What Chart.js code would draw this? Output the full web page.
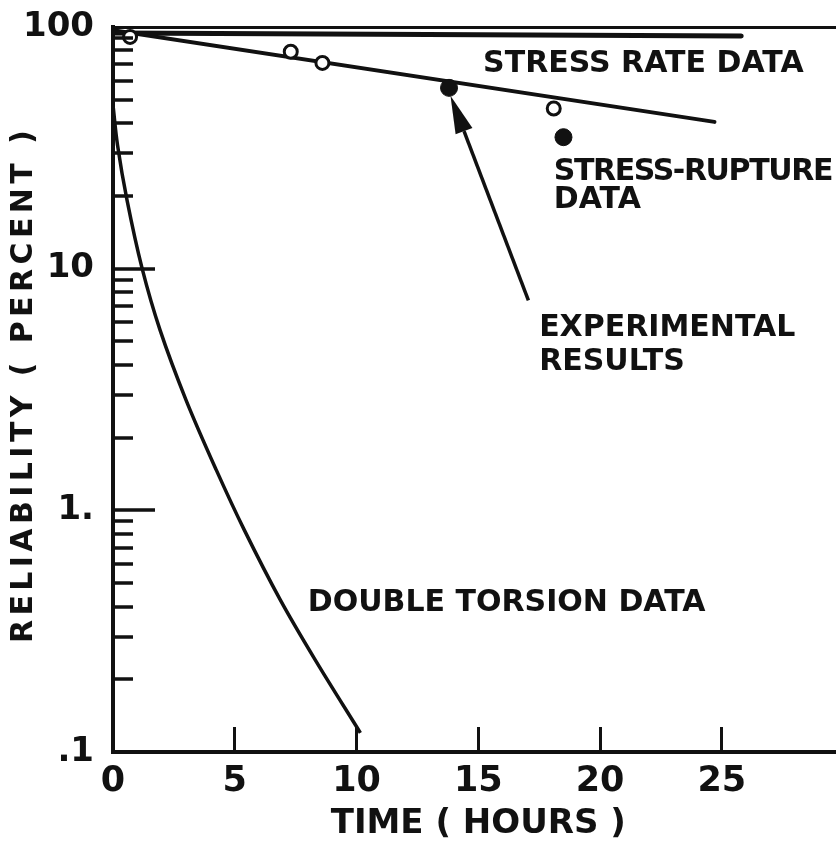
<!DOCTYPE html>
<html>
<head>
<meta charset="utf-8">
<script src="https://cdn.jsdelivr.net/npm/chart.js@4/dist/chart.umd.min.js"></script>
<style>
  html, body { margin: 0; padding: 0; background: #fff; overflow: hidden; width: 836px; height: 851px; }
  #wrap { position: relative; width: 836px; height: 851px; overflow: hidden; }
  canvas { display: block; }
</style>
</head>
<body>
<div id="wrap"><canvas id="chart" width="853" height="851"></canvas></div>
<script>
// Axis ticks
const X_TICKS = [0, 5, 10, 15, 20, 25];
const Y_TICKS = [0.1, 1, 10, 100];
const Y_TICK_LABELS = ['.1', '1.', '10', '100'];

// Stress rate data (fitted line)
const STRESS_RATE_T = [0, 25.8];
const STRESS_RATE_R = [94.5, 91.8];

// Experimental results (fitted line)
const EXPERIMENTAL_T = [0, 24.7];
const EXPERIMENTAL_R = [97, 40.5];

// Double torsion prediction
const TORSION_T = [0, 0.185, 0.576, 1.19, 1.93, 3.00, 4.24, 5.39, 6.87, 8.31, 10.16];
const TORSION_R = [47.6, 32.5, 19.2, 10.07, 5.58, 2.86, 1.47, 0.83, 0.426, 0.24, 0.12];

// Measured points: stress rate (open) and stress-rupture (filled)
const OPEN_T = [0.7, 7.3, 8.6, 18.1];
const OPEN_R = [91, 79, 71, 46];
const FILLED_T = [13.8, 18.5];
const FILLED_R = [56, 35];

// Callout arrow, in data units: tail near the label, head at the point
const ARROW_TAIL = [17.06, 7.4];
const ARROW_HEAD = [13.86, 52];

// Text labels anchored in data units (left edge, vertical middle), letter spacing in px
const NOTES = [
  ['STRESS RATE DATA', 15.2, 70.3, 0],
  ['STRESS-RUPTURE', 18.1, 25.1, -1.4],
  ['DATA', 18.1, 19.2, 0],
  ['EXPERIMENTAL', 17.5, 5.69, 0],
  ['RESULTS', 17.5, 4.11, 0],
  ['DOUBLE TORSION DATA', 8.0, 0.414, 0]
];

const FONT = "'DejaVu Sans', sans-serif";
const INK = '#111';

const zip = (xs, ys) => xs.map((x, i) => ({ x, y: ys[i] }));

// Minor and major tick marks drawn inward from the log axis
const logTicks = {
  id: 'logTicks',
  afterDraw(chart) {
    const y = chart.scales.y;
    const left = chart.chartArea.left;
    const ctx = chart.ctx;
    ctx.save();
    ctx.strokeStyle = INK;
    ctx.lineWidth = 3.5;
    ctx.lineCap = 'butt';
    [0.1, 1, 10].forEach(decade => {
      for (let k = 1; k <= 9; k++) {
        if (k === 1 && decade === 0.1) continue;
        const py = Math.round(y.getPixelForValue(k * decade));
        const len = k === 1 ? 42 : 20;
        ctx.beginPath();
        ctx.moveTo(left, py);
        ctx.lineTo(left + len, py);
        ctx.stroke();
      }
    });
    ctx.restore();
  }
};

// Rotated axis title with wide lettering
const yTitle = {
  id: 'yTitle',
  afterDraw(chart) {
    const ctx = chart.ctx;
    const ca = chart.chartArea;
    ctx.save();
    ctx.translate(24, (ca.top + ca.bottom) / 2 - 3);
    ctx.rotate(-Math.PI / 2);
    ctx.font = `bold 30px ${FONT}`;
    ctx.letterSpacing = '4.4px';
    ctx.fillStyle = INK;
    ctx.textAlign = 'center';
    ctx.textBaseline = 'middle';
    ctx.fillText('RELIABILITY ( PERCENT )', 2, 0);
    ctx.restore();
  }
};

// Text notes and the callout arrow
const notes = {
  id: 'notes',
  afterDatasetsDraw(chart) {
    const { x, y } = chart.scales;
    const ctx = chart.ctx;
    ctx.save();
    ctx.fillStyle = INK;
    ctx.font = `bold 30px ${FONT}`;
    ctx.textAlign = 'left';
    ctx.textBaseline = 'middle';
    NOTES.forEach(([t, tx, ty, sp]) => {
      ctx.letterSpacing = `${sp}px`;
      ctx.fillText(t, x.getPixelForValue(tx), y.getPixelForValue(ty));
    });
    ctx.letterSpacing = '0px';

    const x1 = x.getPixelForValue(ARROW_TAIL[0]);
    const y1 = y.getPixelForValue(ARROW_TAIL[1]);
    const x2 = x.getPixelForValue(ARROW_HEAD[0]);
    const y2 = y.getPixelForValue(ARROW_HEAD[1]);
    const ang = Math.atan2(y2 - y1, x2 - x1);
    const headLen = 38, headHalf = 9;
    const bx = x2 - headLen * Math.cos(ang);
    const by = y2 - headLen * Math.sin(ang);
    ctx.strokeStyle = INK;
    ctx.lineWidth = 3.5;
    ctx.beginPath();
    ctx.moveTo(x1, y1);
    ctx.lineTo(bx, by);
    ctx.stroke();
    ctx.beginPath();
    ctx.moveTo(x2, y2);
    ctx.lineTo(bx + headHalf * Math.sin(ang), by - headHalf * Math.cos(ang));
    ctx.lineTo(bx - headHalf * Math.sin(ang), by + headHalf * Math.cos(ang));
    ctx.closePath();
    ctx.fill();
    ctx.restore();
  }
};

new Chart(document.getElementById('chart'), {
  type: 'scatter',
  data: {
    datasets: [
      {
        data: zip(OPEN_T, OPEN_R), order: 0,
        pointStyle: 'circle', pointRadius: 6.5, borderWidth: 3,
        backgroundColor: '#fff', borderColor: INK
      },
      {
        data: zip(FILLED_T, FILLED_R), order: 0,
        pointStyle: 'circle', pointRadius: 8.5, borderWidth: 1,
        backgroundColor: INK, borderColor: INK
      },
      {
        data: zip(STRESS_RATE_T, STRESS_RATE_R), order: 1,
        showLine: true, pointRadius: 0, borderWidth: 5, borderColor: INK, borderCapStyle: 'round'
      },
      {
        data: zip(EXPERIMENTAL_T, EXPERIMENTAL_R), order: 1,
        showLine: true, pointRadius: 0, borderWidth: 4, borderColor: INK, borderCapStyle: 'round'
      },
      {
        data: zip(TORSION_T, TORSION_R), order: 1,
        showLine: true, pointRadius: 0, borderWidth: 3.5, borderColor: INK,
        tension: 0.35
      }
    ]
  },
  options: {
    responsive: false,
    animation: false,
    devicePixelRatio: 1,
    layout: { padding: 0 },
    plugins: { legend: { display: false }, tooltip: { enabled: false } },
    scales: {
      x: {
        type: 'linear', position: 'bottom', min: 0, max: 30,
        ticks: {
          stepSize: 5, autoSkip: false, maxRotation: 0, padding: 0, color: INK,
          font: { family: FONT, size: 35, weight: 'bold', lineHeight: '110px' },
          callback: v => (X_TICKS.includes(v) ? String(v) : '')
        },
        grid: { drawOnChartArea: false, drawTicks: true, tickLength: -25, tickWidth: 3, tickColor: INK, color: INK },
        border: { display: true, color: INK, width: 4 },
        title: {
          display: true, text: 'TIME ( HOURS )', color: INK,
          font: { family: FONT, size: 34, weight: 'bold' }, padding: { top: 0, bottom: 6 }
        },
        afterFit: s => { s.height = 99; }
      },
      x2: {
        type: 'linear', position: 'top', min: 0, max: 30,
        ticks: { display: false },
        grid: { drawOnChartArea: false, drawTicks: false },
        border: { display: true, color: INK, width: 3 },
        afterFit: s => { s.height = 27; }
      },
      y: {
        type: 'logarithmic', position: 'left', min: 0.1, max: 100,
        afterBuildTicks: s => { s.ticks = Y_TICKS.map(v => ({ value: v })); },
        ticks: {
          autoSkip: false, padding: 0, color: INK,
          font: { family: FONT, size: 34, weight: 'bold' },
          callback: v => Y_TICK_LABELS[Y_TICKS.indexOf(v)]
        },
        grid: { drawOnChartArea: false, drawTicks: true, tickLength: 19, tickColor: 'rgba(0,0,0,0)' },
        border: { display: true, color: INK, width: 4 },
        afterFit: s => { s.width = 113; }
      }
    }
  },
  plugins: [logTicks, yTitle, notes]
});
</script>
</body>
</html>
